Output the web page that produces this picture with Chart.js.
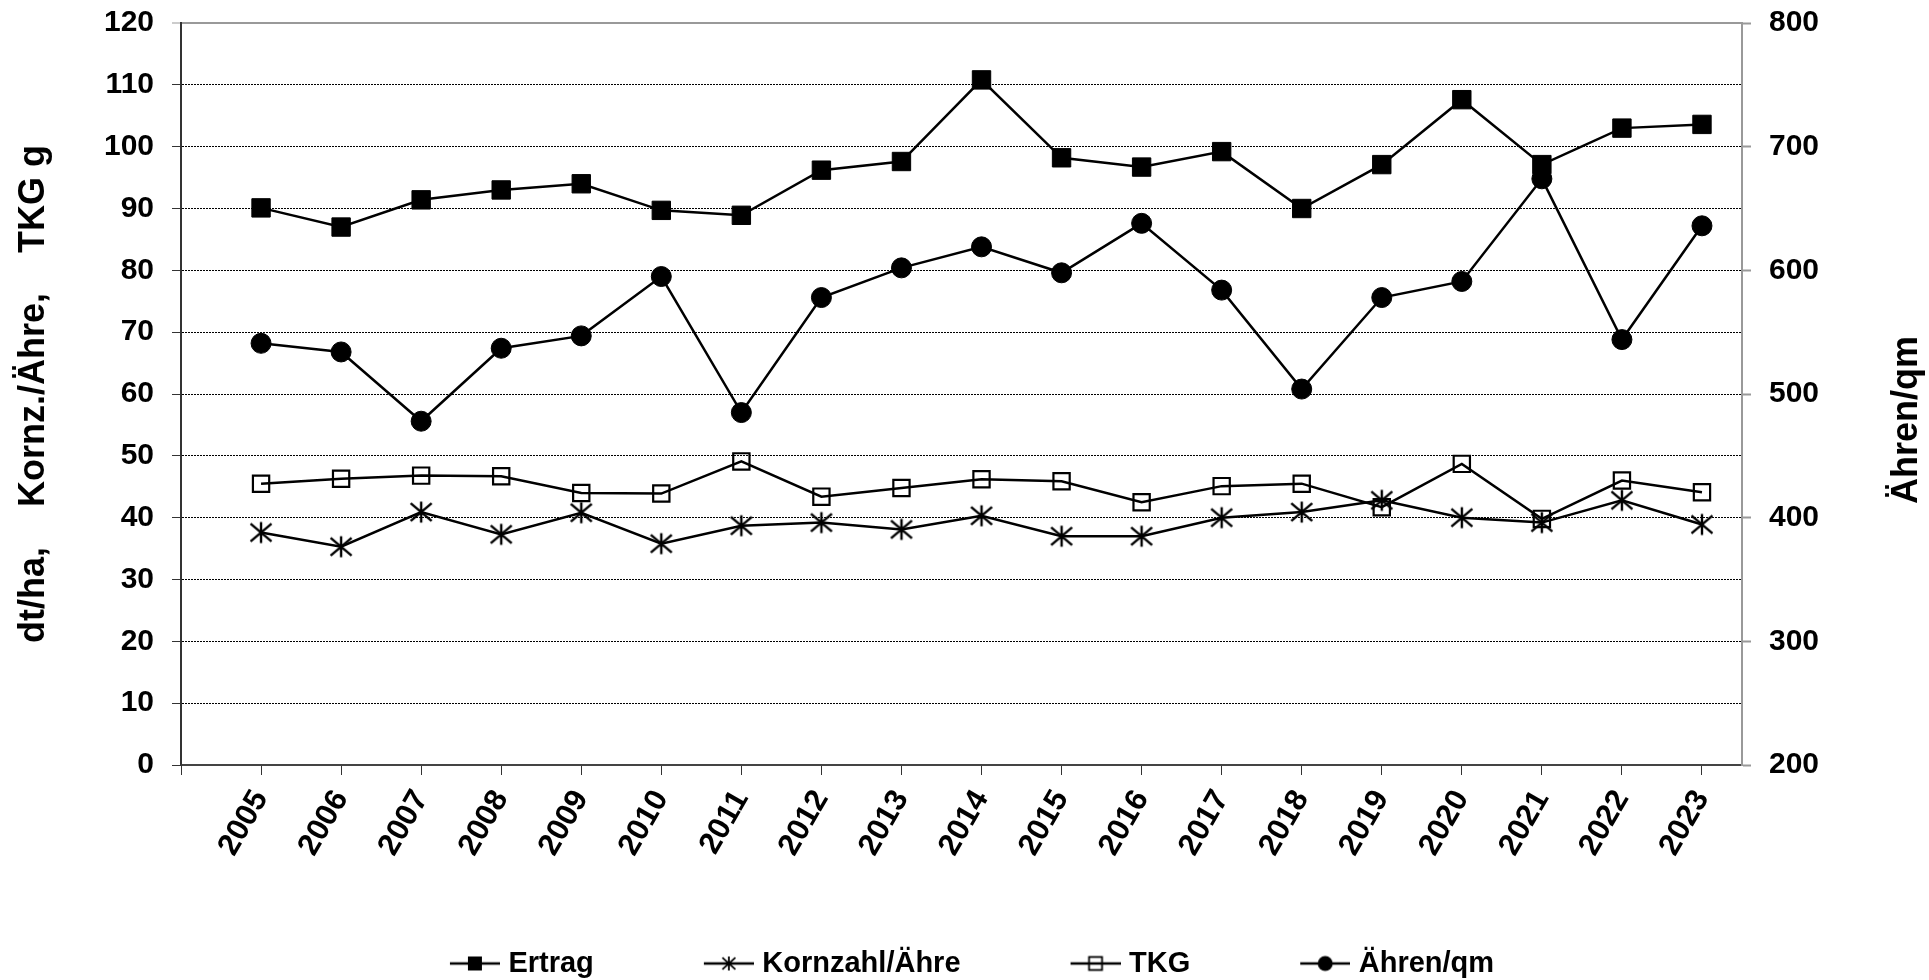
<!DOCTYPE html>
<html>
<head>
<meta charset="utf-8">
<script src="https://cdn.jsdelivr.net/npm/chart.js@4/dist/chart.umd.min.js"></script>
<style>
html,body{margin:0;padding:0;background:#fff;}
#wrap{width:1929px;height:980px;}
</style>
</head>
<body>
<div id="wrap"><canvas id="c" width="1929" height="980"></canvas></div>
<script>
// ---- data ----
const years = [2005,2006,2007,2008,2009,2010,2011,2012,2013,2014,2015,2016,2017,2018,2019,2020,2021,2022,2023];
const ertrag   = [90.1,87.0,91.4,93.0,94.0,89.7,88.9,96.2,97.6,110.8,98.2,96.7,99.2,90.0,97.1,107.6,97.1,103.0,103.6];
const kornzahl = [37.6,35.3,40.9,37.3,40.8,35.8,38.7,39.2,38.1,40.3,37.0,37.0,40.0,40.9,42.8,40.0,39.2,42.8,38.9];
const tkg      = [45.5,46.3,46.8,46.7,44.0,43.9,49.1,43.4,44.8,46.2,45.9,42.5,45.1,45.5,41.7,48.7,39.8,46.0,44.1];
const aehren   = [541,534,478,537,547,595,485,578,602,619,598,638,584,504,578,591,674,544,636];
const seriesLabels = ['Ertrag','Kornzahl/Ähre','TKG','Ähren/qm'];
const leftTitle = 'dt/ha,    Kornz./Ähre,    TKG g';
const rightTitle = 'Ähren/qm';

const FONT = "'Liberation Sans', Arial, Helvetica, sans-serif";
Chart.defaults.font.family = FONT;
Chart.defaults.color = '#000';

// ---- marker images ----
function makeCanvas(w, h, draw) {
  const c = document.createElement('canvas');
  c.width = w; c.height = h;
  const g = c.getContext('2d');
  draw(g, w, h);
  return c;
}
function drawStar(g, cx, cy, rx, ry, lw) {
  g.strokeStyle = '#000'; g.lineWidth = lw; g.lineCap = 'butt';
  g.beginPath();
  g.moveTo(cx, cy - ry); g.lineTo(cx, cy + ry);
  g.moveTo(cx - rx, cy - ry * 0.85); g.lineTo(cx + rx, cy + ry * 0.85);
  g.moveTo(cx + rx, cy - ry * 0.85); g.lineTo(cx - rx, cy + ry * 0.85);
  g.stroke();
}
const starImg = makeCanvas(26, 26, (g) => drawStar(g, 13, 13, 10.5, 10.5, 2.4));

// legend icon: transparent left margin, visible line+marker (50px) at the right
const ICON_BOX = 75;              // pointStyleWidth
const ICON_W = ICON_BOX + 12;     // canvas width
function legendIcon(kind) {
  return makeCanvas(ICON_W, 24, (g, w, h) => {
    const cy = h / 2, x0 = w - 50, cx = x0 + 25;
    g.strokeStyle = '#000'; g.fillStyle = '#000'; g.lineWidth = 2.5;
    g.beginPath(); g.moveTo(x0, cy); g.lineTo(w, cy); g.stroke();
    if (kind === 0) { g.fillRect(cx - 7, cy - 7, 14, 14); }
    if (kind === 1) { drawStar(g, cx, cy, 6.5, 7, 1.8); }
    if (kind === 2) { g.lineWidth = 1.8; g.strokeRect(cx - 6.5, cy - 6.5, 13, 13); }
    if (kind === 3) { g.beginPath(); g.arc(cx, cy, 7.5, 0, Math.PI * 2); g.fill(); }
  });
}
const legendIcons = [0,1,2,3].map(legendIcon);

const pts = (arr) => years.map((x, i) => ({ x: x, y: arr[i] }));
const isTop = (c) => c.tick && c.tick.value === 120;

const rightTitlePlugin = {
  id: 'rightTitle',
  afterDraw(chart) {
    const s = chart.scales.y1;
    const ctx = chart.ctx;
    ctx.save();
    ctx.font = 'bold 36px ' + FONT;
    ctx.fillStyle = '#000';
    ctx.textAlign = 'center';
    ctx.textBaseline = 'middle';
    ctx.translate(s.right - 22, (s.top + s.bottom) / 2 + 26);
    ctx.rotate(-Math.PI / 2);
    ctx.fillText(rightTitle, 0, 0);
    ctx.restore();
  }
};

const LW = 2.5;
new Chart(document.getElementById('c'), {
  type: 'line',
  data: {
    datasets: [
      { label: seriesLabels[0], data: pts(ertrag), yAxisID: 'y',
        borderColor: '#000', borderWidth: LW, pointStyle: 'rect', pointRadius: 13, pointHoverRadius: 13,
        pointBorderWidth: 1, pointBackgroundColor: '#000', pointBorderColor: '#000' },
      { label: seriesLabels[1], data: pts(kornzahl), yAxisID: 'y',
        borderColor: '#000', borderWidth: LW, pointStyle: starImg, pointRadius: 10, pointHoverRadius: 10,
        pointBackgroundColor: '#000', pointBorderColor: '#000' },
      { label: seriesLabels[2], data: pts(tkg), yAxisID: 'y',
        borderColor: '#000', borderWidth: LW, pointStyle: 'rect', pointRadius: 11.5, pointHoverRadius: 11.5,
        pointBorderWidth: 2.2, pointBackgroundColor: 'rgba(0,0,0,0)', pointBorderColor: '#000' },
      { label: seriesLabels[3], data: pts(aehren), yAxisID: 'y1',
        borderColor: '#000', borderWidth: LW, pointStyle: 'circle', pointRadius: 10, pointHoverRadius: 10,
        pointBorderWidth: 1, pointBackgroundColor: '#000', pointBorderColor: '#000' }
    ]
  },
  options: {
    responsive: false,
    animation: false,
    devicePixelRatio: 1,
    events: [],
    layout: { padding: { left: -16, right: 0, top: 23, bottom: -8 } },
    plugins: {
      tooltip: { enabled: false },
      legend: {
        position: 'bottom',
        labels: {
          usePointStyle: true,
          pointStyleWidth: ICON_BOX,
          padding: 79,
          color: '#000',
          font: { size: 29, weight: 'bold' },
          generateLabels(chart) {
            const items = Chart.defaults.plugins.legend.labels.generateLabels(chart);
            items.forEach((it, i) => { it.pointStyle = legendIcons[i]; it.fontColor = '#000'; });
            return items;
          }
        }
      }
    },
    scales: {
      x: {
        type: 'linear',
        min: years[0] - 1,
        max: years[years.length - 1] + 0.5,
        afterFit(s) { s.height = 105; },
        grid: { drawOnChartArea: false, drawTicks: true, tickLength: 10, tickColor: '#333', tickWidth: 1 },
        border: { display: true, color: '#444', width: 2 },
        ticks: {
          stepSize: 1, includeBounds: false, autoSkip: false,
          minRotation: 60, maxRotation: 60, padding: 9,
          color: '#000', font: { size: 31, weight: 'bold' },
          callback: (v) => (v < years[0] ? '' : String(v))
        }
      },
      y: {
        position: 'left', min: 0, max: 120,
        afterFit(s) { s.width = 197; s.paddingTop = 0; s.paddingBottom = 0; },
        grid: {
          color: (c) => (isTop(c) ? '#999' : '#000'),
          lineWidth: (c) => (isTop(c) ? 2 : 1),
          tickLength: 9,
          tickColor: (c) => (isTop(c) ? '#999' : '#333'),
          tickWidth: 1,
          tickBorderDash: []
        },
        border: { display: true, color: '#333', width: 2, dash: (c) => (isTop(c) ? [] : [2, 1]) },
        ticks: { stepSize: 10, padding: 18, color: '#000', font: { size: 30, weight: 'bold' } },
        title: { display: true, text: leftTitle, color: '#000', padding: 0,
                 font: { size: 36, weight: 'bold', lineHeight: 2.78 } }
      },
      y1: {
        position: 'right', min: 200, max: 800,
        afterFit(s) { s.width = 187; s.paddingTop = 0; s.paddingBottom = 0; },
        grid: { drawOnChartArea: false, tickLength: 9, tickColor: '#999', tickWidth: 2 },
        border: { display: true, color: '#999', width: 2 },
        ticks: { stepSize: 100, padding: 18, color: '#000', font: { size: 30, weight: 'bold' } }
      }
    }
  },
  plugins: [rightTitlePlugin]
});
</script>
</body>
</html>
